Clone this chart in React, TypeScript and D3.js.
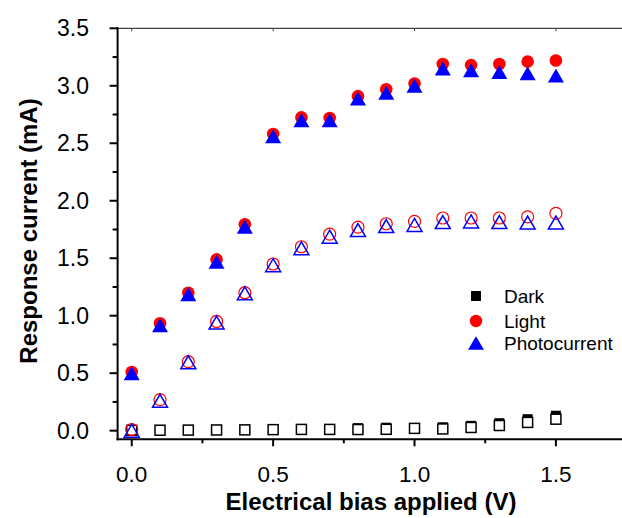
import React from 'react';
import * as d3 from 'd3';

// bias voltage (V)
const bias = [0, 0.1, 0.2, 0.3, 0.4, 0.5, 0.6, 0.7, 0.8, 0.9, 1.0, 1.1, 1.2, 1.3, 1.4, 1.5];

// sample A (filled markers), mA
const darkA = [0.004, 0.005, 0.006, 0.007, 0.008, 0.01, 0.012, 0.012, 0.022, 0.026, 0.02, 0.03, 0.042, 0.065, 0.1, 0.13];
const lightA = [0.51, 0.935, 1.2, 1.49, 1.795, 2.58, 2.725, 2.72, 2.91, 2.97, 3.02, 3.19, 3.18, 3.19, 3.21, 3.22];
const photoA = [0.5, 0.917, 1.186, 1.47, 1.774, 2.56, 2.7, 2.7, 2.89, 2.94, 3.0, 3.15, 3.136, 3.12, 3.11, 3.09];

// sample B (open markers), mA
const darkB = [0.003, 0.004, 0.005, 0.006, 0.007, 0.009, 0.011, 0.011, 0.01, 0.012, 0.02, 0.015, 0.028, 0.045, 0.072, 0.1];
const lightB = [0.01, 0.27, 0.6, 0.95, 1.2, 1.45, 1.6, 1.71, 1.77, 1.8, 1.82, 1.85, 1.85, 1.85, 1.86, 1.89];
const photoB = [0.0, 0.26, 0.595, 0.94, 1.195, 1.44, 1.586, 1.687, 1.745, 1.78, 1.79, 1.815, 1.82, 1.815, 1.81, 1.81];

const xMajor = [0, 0.5, 1.0, 1.5];
const xMinor = [0.25, 0.75, 1.25];
const yMajor = [0, 0.5, 1.0, 1.5, 2.0, 2.5, 3.0, 3.5];
const yMinor = [0.25, 0.75, 1.25, 1.75, 2.25, 2.75, 3.25];

const legendItems = ['Dark', 'Light', 'Photocurrent'];

const W = 622, H = 518;
const FONT = '"Liberation Sans", Arial, sans-serif';
const RED = '#ff0000', BLUE = '#0000ff';

const x = d3.scaleLinear().domain([-0.05, 1.75]).range([117.6, 626.6]);
const y = d3.scaleLinear().domain([-0.075, 3.5]).range([439.3, 28.3]);

function tri(cx: number, cy: number, w: number, h: number) {
  return `M${cx},${cy - h / 2}L${cx + w / 2},${cy + h / 2}L${cx - w / 2},${cy + h / 2}Z`;
}

export default function App() {
  const x0 = x.range()[0];
  const yb = y.range()[0];
  const yt = y.range()[1];
  return (
    <svg width={W} height={H} style={{ position: 'absolute', left: 0, top: 0, background: '#fff' }} fontFamily={FONT}>
      {/* frame */}
      <line x1={x0} x2={W} y1={yt} y2={yt} stroke="#444" strokeWidth={1.2} />
      {xMajor.map((v) => (
        <line key={'tt' + v} x1={x(v)} x2={x(v)} y1={yt} y2={yt + 3} stroke="#444" strokeWidth={1} />
      ))}
      <line x1={x0} x2={x0} y1={yt - 1} y2={yb + 1} stroke="#000" strokeWidth={2} />
      <line x1={x0 - 1} x2={W} y1={yb} y2={yb} stroke="#000" strokeWidth={2} />

      {/* x ticks */}
      {xMajor.map((v) => (
        <g key={'x' + v}>
          <line x1={x(v)} x2={x(v)} y1={yb} y2={yb + 7} stroke="#000" strokeWidth={2} />
          <text x={x(v)} y={482} textAnchor="middle" fontSize={22.5}>{v.toFixed(1)}</text>
        </g>
      ))}
      {xMinor.map((v) => (
        <line key={'xm' + v} x1={x(v)} x2={x(v)} y1={yb} y2={yb + 4} stroke="#000" strokeWidth={2} />
      ))}

      {/* y ticks */}
      {yMajor.map((v) => (
        <g key={'y' + v}>
          <line x1={x0 - 8} x2={x0} y1={y(v)} y2={y(v)} stroke="#000" strokeWidth={2} />
          <text x={89} y={y(v) + 8} textAnchor="end" fontSize={23}>{v.toFixed(1)}</text>
        </g>
      ))}
      {yMinor.map((v) => (
        <line key={'ym' + v} x1={x0 - 5} x2={x0} y1={y(v)} y2={y(v)} stroke="#000" strokeWidth={2} />
      ))}

      {/* titles */}
      <text x={371} y={510} textAnchor="middle" fontSize={24} fontWeight="bold">Electrical bias applied (V)</text>
      <text transform="translate(37,231) rotate(-90)" textAnchor="middle" fontSize={24} fontWeight="bold">Response current (mA)</text>

      {/* dark */}
      {bias.map((b, i) => (
        <rect key={'da' + i} x={x(b) - 5} y={y(darkA[i]) - 5} width={10} height={10} fill="#000" />
      ))}
      {bias.map((b, i) => (
        <rect key={'db' + i} x={x(b) - 5} y={y(darkB[i]) - 5} width={10} height={10} fill="#fff" stroke="#000" strokeWidth={1.5} />
      ))}

      {/* open light / photocurrent */}
      {bias.map((b, i) => (
        <circle key={'lb' + i} cx={x(b)} cy={y(lightB[i])} r={6} fill="none" stroke={RED} strokeWidth={1.2} />
      ))}
      {bias.map((b, i) => (
        <path key={'pb' + i} d={tri(x(b), y(photoB[i]), 15, 13)} fill="none" stroke={BLUE} strokeWidth={1.5} />
      ))}

      {/* filled light / photocurrent */}
      {bias.map((b, i) => (
        <circle key={'la' + i} cx={x(b)} cy={y(lightA[i])} r={6.3} fill={RED} />
      ))}
      {bias.map((b, i) => (
        <path key={'pa' + i} d={tri(x(b), y(photoA[i]), 16, 14)} fill={BLUE} />
      ))}

      {/* legend */}
      <g>
        <rect x={471} y={291} width={10} height={10} fill="#000" />
        <circle cx={476} cy={321} r={6.2} fill={RED} />
        <path d={tri(476, 343, 16, 13.5)} fill={BLUE} />
        {legendItems.map((t, i) => (
          <text key={t} x={504} y={[296, 320.5, 342.5][i] + 7} fontSize={19}>{t}</text>
        ))}
      </g>
    </svg>
  );
}
